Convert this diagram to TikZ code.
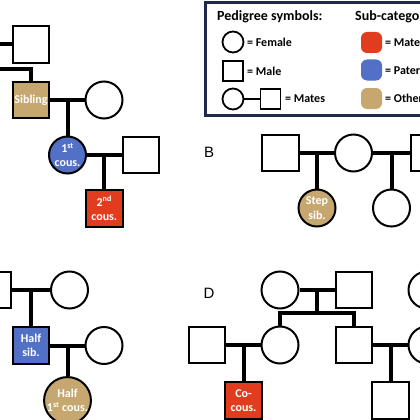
\documentclass[tikz,border=0pt]{standalone}
\usepackage{fontspec}
\setmainfont{Carlito}
\newfontfamily\panelfont{Liberation Sans}
\usetikzlibrary{calc}

\definecolor{tanfill}{RGB}{198,167,112}
\definecolor{bluefill}{RGB}{82,112,198}
\definecolor{redfill}{RGB}{226,60,30}
\definecolor{navyline}{RGB}{30,42,72}

\begin{document}
\begin{tikzpicture}[
        x=1pt, y=-1pt,
        female/.style={circle, draw=black, line width=2pt, fill=white, minimum size=37pt, inner sep=0pt, align=center, text=white, font=\bfseries\fontsize{12}{14.5}\selectfont},
        male/.style={rectangle, draw=black, line width=2pt, fill=white, minimum size=36.5pt, inner sep=0pt, align=center, text=white, font=\bfseries\fontsize{12}{14.5}\selectfont},
        mates/.style={line width=4pt},
        kid/.style={line width=4pt},
        panel/.style={font=\panelfont\fontsize{15}{15}\selectfont},
        lfemale/.style={circle, draw=black, line width=1.8pt, fill=white, minimum size=21pt, inner sep=0pt},
        lmale/.style={rectangle, draw=black, line width=1.8pt, fill=white, minimum size=20pt, inner sep=0pt},
        swatch/.style={rectangle, rounded corners=6pt, minimum size=21pt, inner sep=0pt},
        ltitle/.style={anchor=base west, inner sep=0pt, font=\bfseries\fontsize{14}{14}\selectfont},
        litem/.style={anchor=west, inner sep=0pt, font=\bfseries\fontsize{12}{12}\selectfont}
    ]
        \useasboundingbox (0,0) rectangle (420,420);
        \clip (0,0) rectangle (420,420);

        % Panel A
        \coordinate (matesA) at (-20,44.5);
        \coordinate (sibshipA) at (-20,69);
        \node[male] (uncleA) at (31,44.5) {};
        \node[male, fill=tanfill] (sib) at (31,100) {Sibling};
        \node[female] (sibwife) at (104,100) {};
        \node[female, fill=bluefill] (cous1) at (67.5,155) {1\textsuperscript{st}\\cous.};
        \node[male] (cous1mate) at (141,155) {};
        \node[male, fill=redfill] (cous2) at (104.25,208.5) {2\textsuperscript{nd}\\cous.};

        \draw[mates] (matesA) -- (uncleA);
        \draw[kid] (sibshipA) -| (sib);
        \draw[mates] (sib) -- (sibwife);
        \draw[kid] ($(sib)!0.5!(sibwife)$) -- (cous1);
        \draw[mates] (cous1) -- (cous1mate);
        \draw[kid] ($(cous1)!0.5!(cous1mate)$) -- (cous2);

        % Panel B
        \node[panel] (labelB) at (209,152) {B};
        \node[male] (fatherB) at (280.5,153) {};
        \node[female] (motherB) at (353.5,153) {};
        \node[male] (stepfatherB) at (429.5,153) {};
        \node[female, fill=tanfill] (stepsib) at (317,208) {Step\\sib.};
        \node[female] (halfsisB) at (391.5,208) {};

        \draw[mates] (fatherB) -- (motherB);
        \draw[mates] (motherB) -- (stepfatherB);
        \draw[kid] ($(fatherB)!0.5!(motherB)$) -- (stepsib);
        \draw[kid] ($(motherB)!0.5!(stepfatherB)$) -- (halfsisB);

        % Panel C
        \node[male] (fatherC) at (-7.5,290) {};
        \node[female] (motherC) at (69.5,290) {};
        \node[male, fill=bluefill] (halfsib) at (31,345.5) {Half\\sib.};
        \node[female] (halfsibwife) at (104,345.5) {};
        \node[female, fill=tanfill] (halfcous) at (67.5,400.5) {Half\\1\textsuperscript{st} cous.};

        \draw[mates] (fatherC) -- (motherC);
        \draw[kid] ($(fatherC)!0.5!(motherC)$) -- (halfsib);
        \draw[mates] (halfsib) -- (halfsibwife);
        \draw[kid] ($(halfsib)!0.5!(halfsibwife)$) -- (halfcous);

        % Panel D
        \node[panel] (labelD) at (209,293) {D};
        \node[female] (grandmaD) at (280,290) {};
        \node[male] (grandpaD) at (354,290) {};
        \node[female] (otherD) at (427,290) {};
        \node[male] (uncleD) at (207,345) {};
        \node[female] (auntD) at (280,345) {};
        \node[male] (fatherD) at (354,345) {};
        \node[female] (motherD) at (427,345) {};
        \node[male, fill=redfill] (cocous) at (243.5,400.5) {Co-\\cous.};
        \node[male] (sonD) at (390.5,400.5) {};

        \draw[mates] (grandmaD) -- (grandpaD);
        \draw[kid] ($(grandmaD)!0.5!(grandpaD)$) -- ++(0,23) coordinate (sibshipD);
        \draw[kid] (auntD) |- (sibshipD) -| (fatherD);
        \draw[mates] (uncleD) -- (auntD);
        \draw[kid] ($(uncleD)!0.5!(auntD)$) -- (cocous);
        \draw[mates] (fatherD) -- (motherD);
        \draw[kid] ($(fatherD)!0.5!(motherD)$) -- (sonD);

        % Legend
        \draw[navyline, line width=3pt, fill=white] (205,2.5) rectangle (560,115.5);
        \node[ltitle] (pedtitle) at (217,21) {Pedigree symbols:};
        \node[ltitle] (subtitle) at (355,21) {Sub-categories:};

        \node[lfemale] (lfem) at (233,42) {};
        \node[litem] (lfemtext) at (247,42) {= Female};
        \node[lmale] (lmal) at (233,71) {};
        \node[litem] (lmaltext) at (247,71) {= Male};
        \node[lfemale] (lmatef) at (233,99) {};
        \node[lmale] (lmatem) at (270.5,99) {};
        \draw[line width=2.5pt] (lmatef) -- (lmatem);
        \node[litem] (lmatetext) at (285,99) {= Mates};

        \node[swatch, fill=redfill] (lred) at (371.5,42.5) {};
        \node[litem] (lredtext) at (385,42.5) {= Maternal};
        \node[swatch, fill=bluefill] (lblue) at (371.5,70) {};
        \node[litem] (lbluetext) at (385,70) {= Paternal};
        \node[swatch, fill=tanfill] (ltan) at (371.5,98.5) {};
        \node[litem] (ltantext) at (385,98.5) {= Other};

    \end{tikzpicture}
\end{document}
